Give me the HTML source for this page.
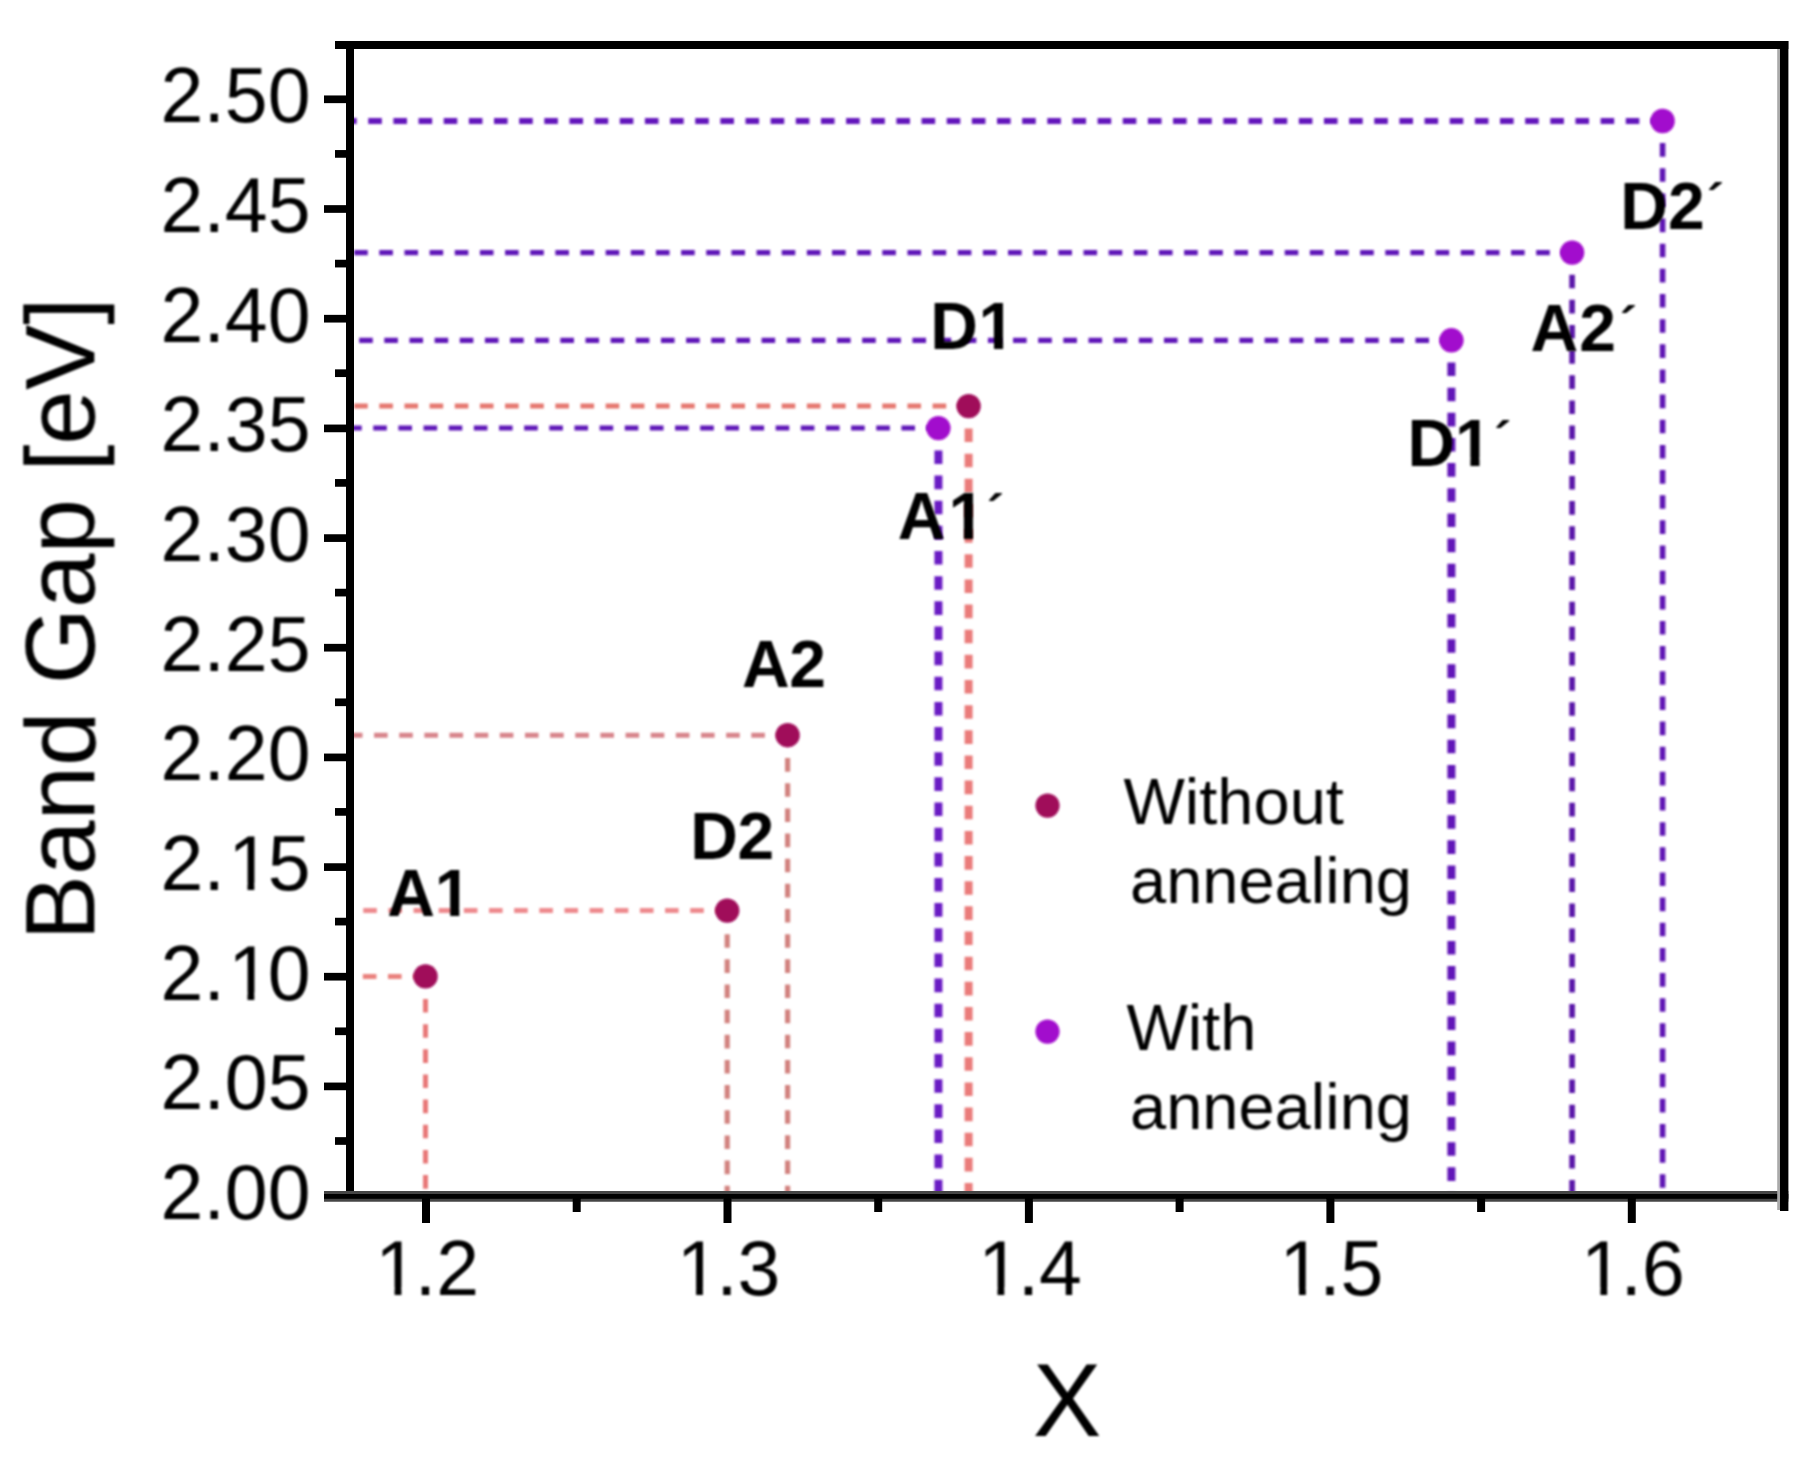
<!DOCTYPE html>
<html lang="en"><head><meta charset="utf-8"><title>Band Gap vs X</title>
<style>
html,body{margin:0;padding:0;background:#fff;}
body{width:1808px;height:1459px;overflow:hidden;}
svg{display:block;}
text{font-family:"Liberation Sans",sans-serif;fill:#000;font-kerning:none;}
.tk{font-size:77px;}
.lb{font-size:66px;font-weight:bold;}
.pr{font-size:52px;}
.lg{font-size:65px;}
.ax{font-size:99px;}
</style></head><body>
<svg width="1808" height="1459" viewBox="0 0 1808 1459">
<defs>
<filter id="soft" x="0" y="0" width="1808" height="1459" filterUnits="userSpaceOnUse"><feGaussianBlur stdDeviation="0.8"/></filter>
<filter id="soft2" x="0" y="0" width="1808" height="1459" filterUnits="userSpaceOnUse"><feGaussianBlur stdDeviation="0.35"/></filter>
<clipPath id="k1"><path clip-rule="evenodd" d="M150.6 922.7H320.5V1022.8H150.6ZM232.0 992.8H247.5V1001.7H232.0ZM254.3 992.8H269.2V1001.7H254.3Z"/></clipPath>
<clipPath id="k2"><path clip-rule="evenodd" d="M150.6 813.1H320.5V913.2H150.6ZM232.0 883.1H247.5V892.1H232.0ZM254.3 883.1H269.2V892.1H254.3Z"/></clipPath>
<clipPath id="k3"><path clip-rule="evenodd" d="M362.0 1217.6H489.0V1317.7H362.0ZM379.1 1287.6H394.6V1296.6H379.1ZM401.4 1287.6H416.3V1296.6H401.4Z"/></clipPath>
<clipPath id="k4"><path clip-rule="evenodd" d="M663.4 1217.6H790.5V1317.7H663.4ZM680.6 1287.6H696.1V1296.6H680.6ZM702.9 1287.6H717.8V1296.6H702.9Z"/></clipPath>
<clipPath id="k5"><path clip-rule="evenodd" d="M964.9 1217.6H1091.9V1317.7H964.9ZM982.0 1287.6H997.5V1296.6H982.0ZM1004.3 1287.6H1019.2V1296.6H1004.3Z"/></clipPath>
<clipPath id="k6"><path clip-rule="evenodd" d="M1266.3 1217.6H1393.4V1317.7H1266.3ZM1283.5 1287.6H1299.0V1296.6H1283.5ZM1305.8 1287.6H1320.7V1296.6H1305.8Z"/></clipPath>
<clipPath id="k7"><path clip-rule="evenodd" d="M1567.8 1217.6H1694.8V1317.7H1567.8ZM1584.9 1287.6H1600.4V1296.6H1584.9ZM1607.2 1287.6H1622.1V1296.6H1607.2Z"/></clipPath>
<clipPath id="k8"><path clip-rule="evenodd" d="M377.3 845.9H524.8V935.9H377.3ZM437.0 908.0H450.2V917.9H437.0ZM459.3 908.0H471.7V917.9H459.3Z"/></clipPath>
<clipPath id="k9"><path clip-rule="evenodd" d="M920.2 278.6H1068.6V368.6H920.2ZM980.8 340.7H994.0V350.6H980.8ZM1003.1 340.7H1015.5V350.6H1003.1Z"/></clipPath>
<clipPath id="k10"><path clip-rule="evenodd" d="M887.7 469.4H1038.5V559.4H887.7ZM950.7 531.5H963.9V541.4H950.7ZM973.0 531.5H985.4V541.4H973.0Z"/></clipPath>
<clipPath id="k11"><path clip-rule="evenodd" d="M1397.5 395.7H1545.0V485.7H1397.5ZM1457.2 457.8H1470.4V467.7H1457.2ZM1479.5 457.8H1491.9V467.7H1479.5Z"/></clipPath>
</defs>
<rect x="0" y="0" width="1808" height="1459" fill="#fff"/>
<g filter="url(#soft)">
<g fill="none" stroke-dasharray="13.6 11.55">
<line x1="350" y1="976.4" x2="425.5" y2="976.4" stroke="#ea827e" stroke-width="5" stroke-dashoffset="12.3"/>
<line x1="425.5" y1="999.0" x2="425.5" y2="1193" stroke="#e87878" stroke-width="5"/>
<line x1="350" y1="910.6" x2="727.2" y2="910.6" stroke="#ee8a8e" stroke-width="5" stroke-dashoffset="11.9"/>
<line x1="727.2" y1="934.2" x2="727.2" y2="1193" stroke="#d2827f" stroke-width="5.2"/>
<line x1="350" y1="735.2" x2="787.6" y2="735.2" stroke="#d8848a" stroke-width="5" stroke-dashoffset="1.1"/>
<line x1="787.6" y1="758.1" x2="787.6" y2="1193" stroke="#d2827f" stroke-width="5.2"/>
<line x1="350" y1="406.1" x2="968.6" y2="406.1" stroke="#e5776f" stroke-width="5" stroke-dashoffset="21.0"/>
<line x1="968.6" y1="428.5" x2="968.6" y2="1193" stroke="#ea7c7a" stroke-width="8"/>
<line x1="350" y1="428.1" x2="938.4" y2="428.1" stroke="#5e14b8" stroke-width="5" stroke-dashoffset="1.9"/>
<line x1="938.4" y1="450.4" x2="938.4" y2="1193" stroke="#6a1cc4" stroke-width="8"/>
<line x1="350" y1="340.3" x2="1451.4" y2="340.3" stroke="#5e14b8" stroke-width="5.3" stroke-dashoffset="16.0"/>
<line x1="1451.4" y1="362.5" x2="1451.4" y2="1193" stroke="#6216b8" stroke-width="8"/>
<line x1="350" y1="252.6" x2="1572.1" y2="252.6" stroke="#5e14b8" stroke-width="5.3" stroke-dashoffset="21.0"/>
<line x1="1572.1" y1="274.7" x2="1572.1" y2="1193" stroke="#5a14a8" stroke-width="5.6"/>
<line x1="350" y1="121.0" x2="1662.6" y2="121.0" stroke="#6418bc" stroke-width="6.0" stroke-dashoffset="6.9"/>
<line x1="1662.6" y1="143.1" x2="1662.6" y2="1193" stroke="#6014b4" stroke-width="5.6"/>
</g>
</g>
<g filter="url(#soft2)" stroke="#000" fill="none" stroke-width="8">
<line x1="350" y1="41" x2="350" y2="1200"/>
<line x1="335" y1="45" x2="1788.3" y2="45"/>
<line x1="324" y1="1196.4" x2="1788.3" y2="1196.4" stroke="#444" stroke-width="10.8"/>
<line x1="324" y1="1196.4" x2="1788.3" y2="1196.4" stroke-width="4.8"/>
<line x1="1778.6" y1="49" x2="1778.6" y2="1210" stroke="#aaa" stroke-width="2.8"/>
<line x1="1784.2" y1="41" x2="1784.2" y2="1211" stroke-width="8.4"/>
<line x1="335" y1="1141.0" x2="350" y2="1141.0" stroke-width="7.7"/>
<line x1="324" y1="1086.4" x2="350" y2="1086.4" stroke-width="7.7"/>
<line x1="335" y1="1031.3" x2="350" y2="1031.3" stroke-width="7.7"/>
<line x1="324" y1="976.7" x2="350" y2="976.7" stroke-width="7.7"/>
<line x1="335" y1="921.6" x2="350" y2="921.6" stroke-width="7.7"/>
<line x1="324" y1="867.1" x2="350" y2="867.1" stroke-width="7.7"/>
<line x1="335" y1="811.9" x2="350" y2="811.9" stroke-width="7.7"/>
<line x1="324" y1="757.4" x2="350" y2="757.4" stroke-width="7.7"/>
<line x1="335" y1="702.3" x2="350" y2="702.3" stroke-width="7.7"/>
<line x1="324" y1="647.7" x2="350" y2="647.7" stroke-width="7.7"/>
<line x1="335" y1="592.6" x2="350" y2="592.6" stroke-width="7.7"/>
<line x1="324" y1="538.1" x2="350" y2="538.1" stroke-width="7.7"/>
<line x1="335" y1="482.9" x2="350" y2="482.9" stroke-width="7.7"/>
<line x1="324" y1="428.4" x2="350" y2="428.4" stroke-width="7.7"/>
<line x1="335" y1="373.2" x2="350" y2="373.2" stroke-width="7.7"/>
<line x1="324" y1="318.7" x2="350" y2="318.7" stroke-width="7.7"/>
<line x1="335" y1="263.6" x2="350" y2="263.6" stroke-width="7.7"/>
<line x1="324" y1="209.0" x2="350" y2="209.0" stroke-width="7.7"/>
<line x1="335" y1="153.9" x2="350" y2="153.9" stroke-width="7.7"/>
<line x1="324" y1="99.3" x2="350" y2="99.3" stroke-width="7.7"/>
<line x1="426.0" y1="1196" x2="426.0" y2="1223" stroke-width="8"/>
<line x1="576.7" y1="1196" x2="576.7" y2="1212" stroke-width="8"/>
<line x1="727.5" y1="1196" x2="727.5" y2="1223" stroke-width="8"/>
<line x1="878.2" y1="1196" x2="878.2" y2="1212" stroke-width="8"/>
<line x1="1028.9" y1="1196" x2="1028.9" y2="1223" stroke-width="8"/>
<line x1="1179.6" y1="1196" x2="1179.6" y2="1212" stroke-width="8"/>
<line x1="1330.4" y1="1196" x2="1330.4" y2="1223" stroke-width="8"/>
<line x1="1481.1" y1="1196" x2="1481.1" y2="1212" stroke-width="8"/>
<line x1="1631.8" y1="1196" x2="1631.8" y2="1223" stroke-width="8"/>
</g>
<g filter="url(#soft)">
<text class="tk" x="160.6" y="1219.1">2.00</text>
<text class="tk" x="160.6" y="1109.4">2.05</text>
<text class="tk" x="160.6 203.5 228.2 267.7" y="999.7" clip-path="url(#k1)">2.10</text>
<text class="tk" x="160.6 203.5 228.2 267.7" y="890.1" clip-path="url(#k2)">2.15</text>
<text class="tk" x="160.6" y="780.4">2.20</text>
<text class="tk" x="160.6" y="670.7">2.25</text>
<text class="tk" x="160.6" y="561.1">2.30</text>
<text class="tk" x="160.6" y="451.4">2.35</text>
<text class="tk" x="160.6" y="341.7">2.40</text>
<text class="tk" x="160.6" y="232.0">2.45</text>
<text class="tk" x="160.6" y="122.3">2.50</text>
<text class="tk" x="375.3 414.8 436.2" y="1294.6" clip-path="url(#k3)">1.2</text>
<text class="tk" x="676.7 716.3 737.6" y="1294.6" clip-path="url(#k4)">1.3</text>
<text class="tk" x="978.2 1017.7 1039.1" y="1294.6" clip-path="url(#k5)">1.4</text>
<text class="tk" x="1279.6 1319.2 1340.5" y="1294.6" clip-path="url(#k6)">1.5</text>
<text class="tk" x="1581.1 1620.6 1642.0" y="1294.6" clip-path="url(#k7)">1.6</text>
<text class="ax" transform="translate(94.3 619) rotate(-90)" text-anchor="middle" textLength="643" lengthAdjust="spacingAndGlyphs">Band Gap [eV]</text>
<text class="ax" x="1067" y="1436.3" text-anchor="middle" style="font-size:103px">X</text>
<circle cx="425.5" cy="976.4" r="12.2" fill="#a00a5a"/>
<circle cx="727.2" cy="910.6" r="12.2" fill="#a00a5a"/>
<circle cx="787.6" cy="735.2" r="12.2" fill="#a00a5a"/>
<circle cx="968.6" cy="406.1" r="12.2" fill="#a00a5a"/>
<circle cx="938.4" cy="428.1" r="12.2" fill="#a20acd"/>
<circle cx="1451.4" cy="340.3" r="12.2" fill="#a20acd"/>
<circle cx="1572.1" cy="252.6" r="12.2" fill="#a20acd"/>
<circle cx="1662.6" cy="121.0" r="12.2" fill="#a20acd"/>
<text class="lb" x="387.3 434.8" y="915.9" clip-path="url(#k8)">A1</text>
<text class="lb" x="690.2 737.6" y="858.6">D2</text>
<text class="lb" x="742.0 789.3" y="686.9">A2</text>
<text class="lb" x="930.2 978.6" y="348.6" clip-path="url(#k9)">D1</text>
<text class="lb" x="897.7 948.5" y="539.4" clip-path="url(#k10)">A1<tspan class="pr" x="986.7" y="531.4">´</tspan></text>
<text class="lb" x="1407.5 1455.0" y="465.7" clip-path="url(#k11)">D1<tspan class="pr" x="1494.0" y="458.0">´</tspan></text>
<text class="lb" x="1530.4 1579.2" y="351.4">A2<tspan class="pr" x="1619.7" y="343.1">´</tspan></text>
<text class="lb" x="1620.2 1667.9" y="228.6">D2<tspan class="pr" x="1706.7" y="220.4">´</tspan></text>
<circle cx="1047.5" cy="805.6" r="12.1" fill="#a00a5a"/>
<circle cx="1047.5" cy="1031.6" r="12.1" fill="#a20acd"/>
<text class="lg" x="1123.5" y="824.3">Without</text>
<text class="lg" x="1130" y="902.6">annealing</text>
<text class="lg" x="1126.5" y="1049.5">With</text>
<text class="lg" x="1130" y="1128.6">annealing</text>
</g>
</svg>
</body></html>
